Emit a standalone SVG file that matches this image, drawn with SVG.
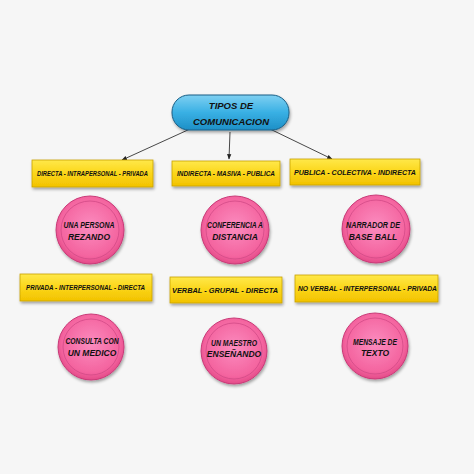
<svg xmlns="http://www.w3.org/2000/svg" width="474" height="474" viewBox="0 0 474 474">
<defs>
<linearGradient id="yel" x1="0" y1="0" x2="0" y2="1">
<stop offset="0" stop-color="#ffe84a"/>
<stop offset="0.5" stop-color="#fbd619"/>
<stop offset="1" stop-color="#f2c200"/>
</linearGradient>
<linearGradient id="blue" x1="0" y1="0" x2="0" y2="1">
<stop offset="0" stop-color="#7fd0f2"/>
<stop offset="0.5" stop-color="#39b0e4"/>
<stop offset="1" stop-color="#1d8fc6"/>
</linearGradient>
<radialGradient id="pink" cx="0.5" cy="0.45" r="0.55">
<stop offset="0" stop-color="#fb8cbf"/>
<stop offset="0.8" stop-color="#f4649f"/>
<stop offset="1" stop-color="#e34a88"/>
</radialGradient>
<filter id="sh" x="-20%" y="-20%" width="140%" height="150%">
<feGaussianBlur in="SourceAlpha" stdDeviation="1.5"/>
<feOffset dx="1" dy="2"/>
<feComponentTransfer><feFuncA type="linear" slope="0.35"/></feComponentTransfer>
<feMerge><feMergeNode/><feMergeNode in="SourceGraphic"/></feMerge>
</filter>
<marker id="arr" viewBox="0 0 10 10" refX="9" refY="5" markerWidth="6" markerHeight="6" orient="auto">
<path d="M0,1 L10,5 L0,9 z" fill="#222"/>
</marker>
</defs>
<style>
.box{fill:url(#yel);stroke:#c9a200;stroke-width:0.8;filter:url(#sh)}
.circ{fill:url(#pink);stroke:#c93a78;stroke-width:1;filter:url(#sh)}
.ring{fill:none;stroke:#d24a86;stroke-width:0.8}
.t{font-family:"Liberation Sans",Arial,sans-serif;font-weight:bold;font-style:italic;fill:#111;text-anchor:middle}
.bt{font-size:6.5px}
.ct{font-size:8.5px}
.con{stroke:#333;stroke-width:0.9;fill:none;marker-end:url(#arr)}
</style>
<rect width="474" height="474" fill="#f6f6f6"/>
<g id="connectors">
<line class="con" x1="190" y1="129" x2="122" y2="160"/>
<line class="con" x1="230" y1="132" x2="229" y2="159"/>
<line class="con" x1="270" y1="129" x2="332" y2="159"/>
</g>
<g id="root">
<rect x="172" y="95" width="117" height="35" rx="17" ry="17" fill="url(#blue)" stroke="#1a5f86" stroke-width="1" filter="url(#sh)"/>
<text class="t" x="231" y="109" font-size="9.5">TIPOS DE</text>
<text class="t" x="231" y="125" font-size="9.5">COMUNICACION</text>
</g>
<g id="b1"><rect class="box" x="32" y="160" width="121" height="27"/>
<text class="t bt" x="92.5" y="176" textLength="111" lengthAdjust="spacingAndGlyphs">DIRECTA - INTRAPERSONAL - PRIVADA</text></g>
<g id="b2"><rect class="box" x="172" y="161" width="108" height="25"/>
<text class="t bt" x="226" y="176" textLength="98" lengthAdjust="spacingAndGlyphs">INDIRECTA - MASIVA - PUBLICA</text></g>
<g id="b3"><rect class="box" x="290" y="159" width="130" height="26"/>
<text class="t" x="355" y="175" font-size="7.5" textLength="122" lengthAdjust="spacingAndGlyphs">PUBLICA - COLECTIVA - INDIRECTA</text></g>
<g id="c1"><circle class="circ" cx="90" cy="230" r="34"/><circle class="ring" cx="90" cy="230" r="29"/>
<text class="t ct" x="89" y="228" textLength="51" lengthAdjust="spacingAndGlyphs">UNA PERSONA</text>
<text class="t ct" x="89" y="240">REZANDO</text></g>
<g id="c2"><circle class="circ" cx="235" cy="230" r="34"/><circle class="ring" cx="235" cy="230" r="29"/>
<text class="t ct" x="235" y="228" textLength="56" lengthAdjust="spacingAndGlyphs">CONFERENCIA A</text>
<text class="t ct" x="235" y="240">DISTANCIA</text></g>
<g id="c3"><circle class="circ" cx="376" cy="229" r="34"/><circle class="ring" cx="376" cy="229" r="29"/>
<text class="t ct" x="373" y="228" textLength="54" lengthAdjust="spacingAndGlyphs">NARRADOR DE</text>
<text class="t ct" x="373" y="240">BASE BALL</text></g>
<g id="b4"><rect class="box" x="20" y="274" width="132" height="27"/>
<text class="t bt" x="85.5" y="290" textLength="119" lengthAdjust="spacingAndGlyphs">PRIVADA - INTERPERSONAL - DIRECTA</text></g>
<g id="b5"><rect class="box" x="170" y="277" width="112" height="26"/>
<text class="t" x="225" y="293" font-size="8" textLength="106" lengthAdjust="spacingAndGlyphs">VERBAL - GRUPAL - DIRECTA</text></g>
<g id="b6"><rect class="box" x="295" y="275" width="143" height="27"/>
<text class="t" x="367.5" y="291" font-size="7" textLength="139" lengthAdjust="spacingAndGlyphs">NO VERBAL - INTERPERSONAL - PRIVADA</text></g>
<g id="c4"><circle class="circ" cx="91" cy="347" r="33"/><circle class="ring" cx="91" cy="347" r="28"/>
<text class="t ct" x="92" y="344" textLength="53" lengthAdjust="spacingAndGlyphs">CONSULTA CON</text>
<text class="t ct" x="92" y="356">UN MEDICO</text></g>
<g id="c5"><circle class="circ" cx="234" cy="351" r="33"/><circle class="ring" cx="234" cy="351" r="28"/>
<text class="t ct" x="234" y="346" textLength="46" lengthAdjust="spacingAndGlyphs">UN MAESTRO</text>
<text class="t ct" x="234" y="357">ENSEÑANDO</text></g>
<g id="c6"><circle class="circ" cx="375" cy="346" r="33"/><circle class="ring" cx="375" cy="346" r="28"/>
<text class="t ct" x="375" y="345" textLength="44" lengthAdjust="spacingAndGlyphs">MENSAJE DE</text>
<text class="t ct" x="375" y="356">TEXTO</text></g>
</svg>
